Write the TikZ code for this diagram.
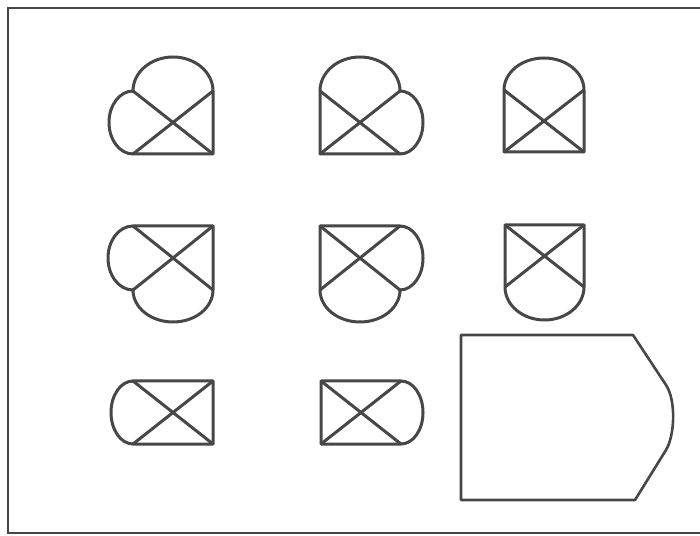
\documentclass[tikz,border=0pt]{standalone}
\begin{document}
\begin{tikzpicture}[x=1pt,y=1pt,
  ln/.style={draw=black!72,line width=3pt,line join=round,line cap=round},
  fr/.style={draw=black!72,line width=2.4pt}]
\useasboundingbox (0,0) rectangle (700,535);
% frame (open on the right)
\coordinate (f1) at (700,527);
\coordinate (f2) at (8,527);
\coordinate (f3) at (8,2);
\coordinate (f4) at (700,2);
\draw[fr] (f1) -- (f2) -- (f3) -- (f4);
% row 1, cell 1: left and top arcs
\begin{scope}[shift={(133,444)}]
  \coordinate (a) at (0,0); \coordinate (b) at (80,0);
  \coordinate (c) at (80,-63); \coordinate (d) at (0,-63);
  \draw[ln] (d) arc[start angle=270,end angle=90,x radius=24pt,y radius=31.5pt]
            arc[start angle=180,end angle=0,x radius=40pt,y radius=34pt] -- (c) -- cycle;
  \draw[ln] (a) -- (c) (b) -- (d);
\end{scope}
% row 1, cell 2: top and right arcs
\begin{scope}[shift={(320,444)}]
  \coordinate (a) at (0,0); \coordinate (b) at (80,0);
  \coordinate (c) at (80,-63); \coordinate (d) at (0,-63);
  \draw[ln] (c) -- (d) -- (a)
            arc[start angle=180,end angle=0,x radius=40pt,y radius=34pt]
            arc[start angle=90,end angle=-90,x radius=23pt,y radius=31.5pt];
  \draw[ln] (a) -- (c) (b) -- (d);
\end{scope}
% row 1, cell 3: top arc
\begin{scope}[shift={(504,445)}]
  \coordinate (a) at (0,0); \coordinate (b) at (80,0);
  \coordinate (c) at (80,-62); \coordinate (d) at (0,-62);
  \draw[ln] (b) -- (c) -- (d) -- (a)
            arc[start angle=180,end angle=0,x radius=40pt,y radius=32pt];
  \draw[ln] (a) -- (c) (b) -- (d);
\end{scope}
% row 2, cell 1: left and bottom arcs
\begin{scope}[shift={(133,309)}]
  \coordinate (a) at (0,0); \coordinate (b) at (80,0);
  \coordinate (c) at (80,-64); \coordinate (d) at (0,-64);
  \draw[ln] (a) -- (b) -- (c)
            arc[start angle=0,end angle=-180,x radius=40pt,y radius=32pt]
            arc[start angle=270,end angle=90,x radius=25pt,y radius=32pt];
  \draw[ln] (a) -- (c) (b) -- (d);
\end{scope}
% row 2, cell 2: right and bottom arcs
\begin{scope}[shift={(320,309)}]
  \coordinate (a) at (0,0); \coordinate (b) at (80,0);
  \coordinate (c) at (80,-64); \coordinate (d) at (0,-64);
  \draw[ln] (d) -- (a) -- (b)
            arc[start angle=90,end angle=-90,x radius=23pt,y radius=32pt]
            arc[start angle=0,end angle=-180,x radius=40pt,y radius=32pt];
  \draw[ln] (a) -- (c) (b) -- (d);
\end{scope}
% row 2, cell 3: bottom arc
\begin{scope}[shift={(505,310)}]
  \coordinate (a) at (0,0); \coordinate (b) at (79,0);
  \coordinate (c) at (79,-62); \coordinate (d) at (0,-62);
  \draw[ln] (c) -- (b) -- (a) -- (d)
            arc[start angle=180,end angle=360,x radius=39.5pt,y radius=33pt];
  \draw[ln] (a) -- (c) (b) -- (d);
\end{scope}
% row 3, cell 1: left arc
\begin{scope}[shift={(133,154)}]
  \coordinate (a) at (0,0); \coordinate (b) at (80,0);
  \coordinate (c) at (80,-63); \coordinate (d) at (0,-63);
  \draw[ln] (a) -- (b) -- (c) -- (d)
            arc[start angle=270,end angle=90,x radius=22pt,y radius=31.5pt];
  \draw[ln] (a) -- (c) (b) -- (d);
\end{scope}
% row 3, cell 2: right arc
\begin{scope}[shift={(321,154)}]
  \coordinate (a) at (0,0); \coordinate (b) at (80,0);
  \coordinate (c) at (80,-63); \coordinate (d) at (0,-63);
  \draw[ln] (b) -- (a) -- (d) -- (c)
            arc[start angle=-90,end angle=90,x radius=22pt,y radius=31.5pt];
  \draw[ln] (a) -- (c) (b) -- (d);
\end{scope}
% big shape
\coordinate (p1) at (461,200);
\coordinate (p2) at (633,200);
\coordinate (p3) at (666,150);
\coordinate (p4) at (666,85);
\coordinate (p5) at (635,35);
\coordinate (p6) at (461,35);
\draw[ln,line width=2.6pt] (p1) -- (p2) -- (p3) .. controls (676,135) and (675,100) .. (p4) -- (p5) -- (p6) -- cycle;
\end{tikzpicture}
\end{document}
